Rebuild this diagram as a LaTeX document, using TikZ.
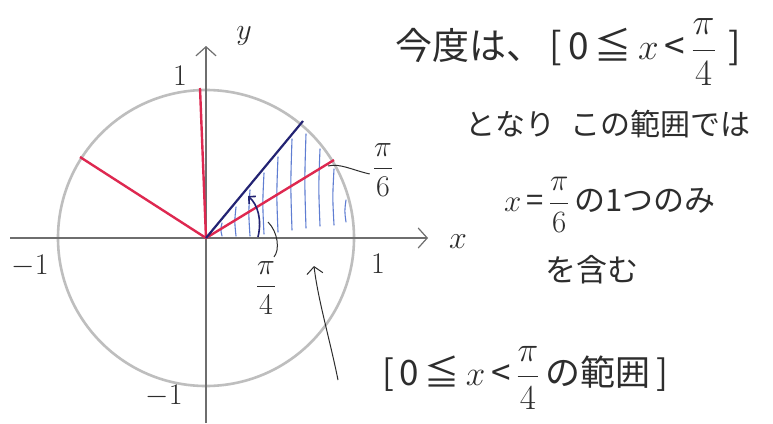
\RequirePackage{fix-cm}
\documentclass[tikz,border=0pt]{standalone}
\usepackage{fontspec}
\usepackage{amsmath}
\newfontfamily\jp{Noto Sans CJK JP}
\usetikzlibrary{arrows.meta}
\definecolor{circgray}{RGB}{190,190,190}
\definecolor{axisgray}{RGB}{110,110,110}
\definecolor{penred}{RGB}{222,40,80}
\definecolor{pennavy}{RGB}{35,35,115}
\definecolor{hatchblue}{RGB}{95,125,210}
\definecolor{pencil}{RGB}{45,45,45}
\tikzset{
  axisline/.style={draw=axisgray, line width=1.6pt},
  circline/.style={draw=circgray, line width=2.6pt},
  redline/.style={draw=penred, line width=2.4pt},
  navyline/.style={draw=pennavy, line width=2.2pt},
  hatch/.style={draw=hatchblue, line width=1.1pt, line cap=round},
  leader/.style={draw=pencil, line width=1pt},
  jptext/.style={text=pencil, inner sep=0pt, anchor=center},
  lbl/.style={text=pencil, inner sep=0pt, font=\fontsize{30}{32}\selectfont},
  barb/.style={-{Straight Barb[length=9pt,width=20pt,line width=1.2pt]}}
}
\begin{document}
\begin{tikzpicture}[x=1pt,y=-1pt]
\useasboundingbox[fill=white] (0,0) rectangle (773,423);
% origin and circle
\coordinate (O) at (206,238);
\draw[circline] (O) circle[radius=148];
% hatching
\foreach \hx/\ht/\hb in {222/223/236, 236/207/236, 250/190/236, 264/173/234, 278/157/232, 292/139/230, 306/134/228, 320/149/226, 334/169/225, 346/200/222}{
  \draw[hatch] (\hx,\hb) .. controls (\hx-1.5,{(\ht+\hb)/2}) .. (\hx,\ht);
}
% axes
\coordinate (xs) at (10,238);
\coordinate (xe) at (428,238);
\coordinate (ys) at (206,423);
\coordinate (ye) at (206,46);
\draw[axisline, barb] (xs) -- (xe);
\draw[axisline, barb] (ys) -- (ye);
% radii
\coordinate (r90) at (200,88);
\coordinate (r150) at (80,157);
\coordinate (r30) at (334,160);
\coordinate (b45) at (303,121);
\draw[redline] (O) -- (r90);
\draw[redline] (O) -- (r150);
\draw[redline] (O) -- (r30);
\draw[navyline] (O) -- (b45);
% angle arrow
\draw[draw=pennavy, line width=1.6pt, -{Straight Barb[length=5pt,width=10pt]}] (258,237) .. controls (262,220) and (258,205) .. (248,196);
% axis labels
\node[lbl, font=\fontsize{30}{32}\selectfont] (ylab) at (244,36) {$y$};
\node[lbl, font=\fontsize{32}{34}\selectfont] (xlab) at (458,242) {$x$};
\node[lbl] (one1) at (180,76) {1};
\node[lbl] (mone1) at (30,266) {$-1$};
\node[lbl] (one2) at (378,264) {1};
\node[lbl] (mone2) at (164,396) {$-1$};
% angle labels
\node[lbl] (p6) at (383,170) {$\dfrac{\pi}{6}$};
\node[lbl] (p4) at (266,288) {$\dfrac{\pi}{4}$};
\coordinate (p6t) at (328,166);
\coordinate (p4t) at (268,222);
\draw[leader] (p6.west) ++(-3,4) .. controls (352,170) and (340,163) .. (p6t);
\draw[leader] (p4.north) ++(8,-4) .. controls (280,250) and (278,232) .. (p4t);
% text
\node[jptext, font=\jp\fontsize{37}{40}\selectfont] (t1) at (568,52) {今度は、\,[\,0\,≦\,$x$\,<\,$\dfrac{\pi}{4}$\,\,]};
\node[jptext, font=\jp\fontsize{30}{34}\selectfont] (t2) at (608,124) {となり\hspace{0.5em}この範囲では};
\node[jptext, font=\jp\fontsize{31}{34}\selectfont] (t3) at (610,205) {$x$\,=\,$\dfrac{\pi}{6}$\,の1つのみ};
\node[jptext, font=\jp\fontsize{31}{34}\selectfont] (t4) at (592,270) {を含む};
\node[jptext, font=\jp\fontsize{35}{38}\selectfont] (t5) at (525,378) {[\,0\,≦\,$x$\,<\,$\dfrac{\pi}{4}$\,の範囲\,]};
% arrow from bottom label
\coordinate (rg) at (314,266);
\draw[leader, -{Straight Barb[length=7pt,width=16pt,line width=1pt]}] (338,380) .. controls (330,340) and (318,300) .. (rg);
\end{tikzpicture}
\end{document}
